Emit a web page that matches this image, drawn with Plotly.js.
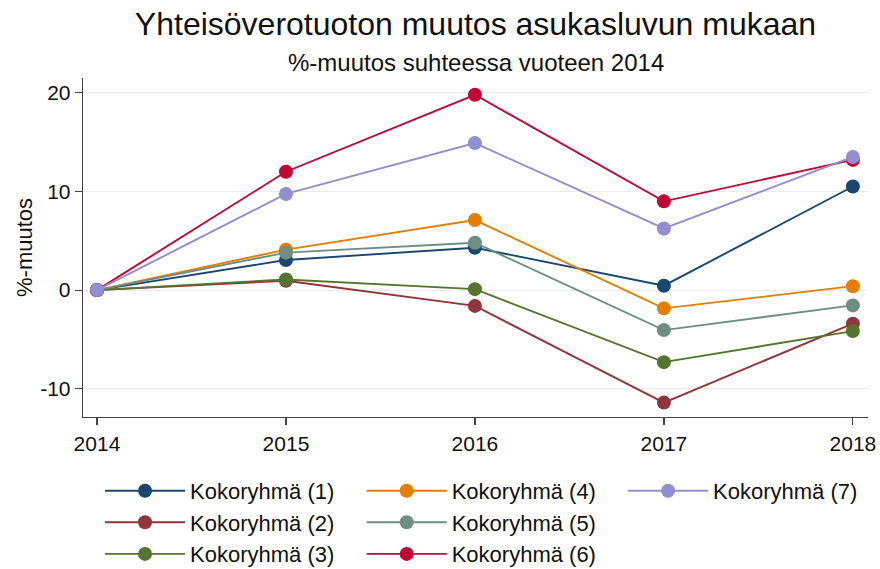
<!DOCTYPE html>
<html>
<head>
<meta charset="utf-8">
<script src="https://cdn.plot.ly/plotly-3.0.1.min.js"></script>
<style>html,body{margin:0;padding:0;background:#fff}#chart{width:880px;height:569px}</style>
</head>
<body>
<div id="chart"></div>
<script>
const years = [2014, 2015, 2016, 2017, 2018];
const groupNames = ["Kokoryhmä (1)", "Kokoryhmä (2)", "Kokoryhmä (3)", "Kokoryhmä (4)", "Kokoryhmä (5)", "Kokoryhmä (6)", "Kokoryhmä (7)"];
const g1 = [0, 3.05, 4.3, 0.45, 10.5];
const g2 = [0, 0.95, -1.6, -11.4, -3.4];
const g3 = [0, 1.08, 0.1, -7.3, -4.15];
const g4 = [0, 4.1, 7.1, -1.85, 0.4];
const g5 = [0, 3.8, 4.8, -4.05, -1.55];
const g6 = [0, 12.0, 19.8, 9.0, 13.2];
const g7 = [0, 9.75, 14.9, 6.25, 13.5];
const series = [g1, g2, g3, g4, g5, g6, g7];
const colors = ["#1a476f", "#90353b", "#55752f", "#e37e00", "#6e8e84", "#c10534", "#938dd2"];
const legendOf = ["legend", "legend", "legend", "legend2", "legend2", "legend2", "legend3"];
const titleText = "Yhteisöverotuoton muutos asukasluvun mukaan";
const subtitleText = "%-muutos suhteessa vuoteen 2014";
const yTitle = "%-muutos";

const FONT = "Arial, 'Liberation Sans', sans-serif";

const traces = series.map((vals, i) => ({
  type: "scatter",
  mode: "lines+markers",
  x: years,
  y: vals,
  name: groupNames[i],
  legend: legendOf[i],
  line: {color: colors[i], width: 1.9},
  marker: {color: colors[i], size: 14},
  cliponaxis: false
}));

const legendBase = {
  orientation: "v",
  bgcolor: "rgba(0,0,0,0)",
  font: {family: FONT, size: 22, color: "#111"},
  xref: "paper", yref: "paper",
  xanchor: "left", yanchor: "top",
  tracegroupgap: 0,
  itemwidth: 80
};

const layout = {
  width: 880, height: 569,
  margin: {l: 83, r: 12, t: 78, b: 152, autoexpand: false},
  paper_bgcolor: "#ffffff",
  plot_bgcolor: "#ffffff",
  font: {family: FONT, color: "#111"},
  title: {
    text: titleText,
    font: {family: FONT, size: 32, color: "#111"},
    xref: "paper", x: 0.5, xanchor: "center",
    yref: "container", y: 0.977, yanchor: "top"
  },
  annotations: [{
    text: subtitleText,
    xref: "paper", yref: "paper",
    x: 0.5, y: 1.0, yshift: 16,
    xanchor: "center", yanchor: "middle",
    showarrow: false,
    font: {family: FONT, size: 24, color: "#111"}
  }],
  xaxis: {
    range: [2013.926, 2018.08],
    tickvals: years,
    ticktext: years.map(String),
    ticks: "outside", ticklen: 7, tickcolor: "#444", tickwidth: 1.2,
    showline: true, linecolor: "#444", linewidth: 1.3,
    showgrid: false, zeroline: false,
    tickfont: {family: FONT, size: 21, color: "#111"}
  },
  yaxis: {
    range: [-12.86, 21.5],
    tickvals: [-10, 0, 10, 20],
    ticktext: ["-10", "0", "10", "20"],
    ticks: "outside", ticklen: 7, tickcolor: "#444", tickwidth: 1.2,
    showline: true, linecolor: "#444", linewidth: 1.3,
    showgrid: true, gridcolor: "#ebebeb", gridwidth: 1.2,
    zeroline: false,
    tickfont: {family: FONT, size: 21, color: "#111"},
    title: {text: yTitle, font: {family: FONT, size: 22, color: "#111"}, standoff: 1}
  },
  legend: Object.assign({}, legendBase, {x: 0.0217, y: -0.156}),
  legend2: Object.assign({}, legendBase, {x: 0.355, y: -0.156}),
  legend3: Object.assign({}, legendBase, {x: 0.688, y: -0.156}),
  showlegend: true
};

Plotly.newPlot("chart", traces, layout, {displayModeBar: false, staticPlot: true});
</script>
</body>
</html>
